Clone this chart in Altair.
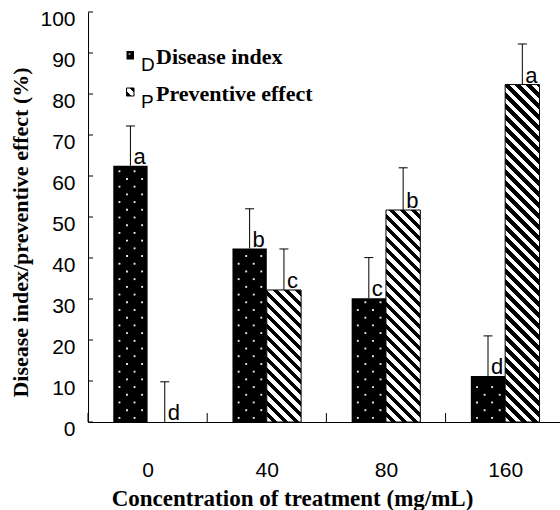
import json
import altair as alt
import pandas as pd

# ---------------- data ----------------
categories = ["0", "40", "80", "160"]
series = ["Disease index", "Preventive effect"]
disease_index = [62.5, 42.3, 30.2, 11.2]
disease_err = [9.7, 9.7, 9.9, 9.8]
preventive = [0.0, 32.2, 51.7, 82.3]
preventive_err = [9.8, 10.0, 10.3, 9.9]
disease_letters = ["a", "b", "c", "d"]
preventive_letters = ["d", "c", "b", "a"]
y_ticks = list(range(0, 101, 10))
x_title = "Concentration of treatment (mg/mL)"
y_title = "Disease index/preventive effect (%)"

# ---------------- layout ----------------
W, H = 472, 410
X_MIN, X_MAX = -0.5, 3.46
Y_MAX = 100
PX_X = W / (X_MAX - X_MIN)
PX_Y = H / Y_MAX
BW = 0.288
CAP = 4.5 / PX_X

SANS = "Liberation Sans, Arial, sans-serif"
SERIF = "Liberation Serif, Times New Roman, serif"

xs = alt.Scale(domain=[X_MIN, X_MAX], nice=False, zero=False)
ys = alt.Scale(domain=[0, Y_MAX], nice=False, zero=True)

rows = []
for i, c in enumerate(categories):
    rows.append(dict(cat=c, s=series[0], x=i - BW, x2=i, cx=i - BW / 2,
                     v=disease_index[i], top=disease_index[i] + disease_err[i],
                     letter=disease_letters[i]))
    rows.append(dict(cat=c, s=series[1], x=i, x2=i + BW, cx=i + BW / 2,
                     v=preventive[i], top=preventive[i] + preventive_err[i],
                     letter=preventive_letters[i]))
df = pd.DataFrame(rows)
di_df = df[df.s == series[0]]

label_expr = "%s[datum.value]" % json.dumps(categories)

x_axis = alt.Axis(values=list(range(len(categories))), labelExpr=label_expr,
                  ticks=False, tickSize=0, grid=False, domainColor="black",
                  labelFont=SANS, labelFontSize=21, labelColor="black",
                  labelPadding=37, labelOverlap=False,
                  title=x_title, titleFont=SERIF, titleFontSize=23,
                  titleFontWeight="bold", titleColor="black", titlePadding=7,
                  titleX=204)
y_axis = alt.Axis(values=y_ticks, ticks=False, tickSize=0, grid=False,
                  domainColor="black", labelFont=SANS, labelFontSize=21,
                  labelColor="black", labelPadding=13, labelOffset=7,
                  labelOverlap=False,
                  title=y_title, titleFont=SERIF, titleFontSize=22,
                  titleFontWeight="bold", titleColor="black",
                  titleX=-68, titleY=220, titleBaseline="middle")


def X(f):
    return alt.X(f, scale=xs)


def Y(f):
    return alt.Y(f, scale=ys)


# disease index bars (black)
di_bars = alt.Chart(di_df).mark_rect(color="black").encode(
    x=alt.X("x:Q", scale=xs, axis=x_axis),
    x2="x2:Q",
    y=alt.Y("v:Q", scale=ys, axis=y_axis),
    y2=alt.datum(0),
)

# dot texture on disease bars
dots = []
for i, v in enumerate(disease_index):
    k = 0
    y = 1.0
    while y < v - 1.0:
        offs = [0.40, 0.84] if k % 2 else [0.18, 0.62]
        for f in offs:
            dots.append(dict(dx=i - BW + f * BW, dy=y))
        y += 1.88
        k += 1
dots_df = pd.DataFrame(dots)
dot_layer = alt.Chart(dots_df).mark_square(color="#f0f0f0", size=3.5, opacity=1).encode(
    x=X("dx:Q"), y=Y("dy:Q"))


def stripe_gradient(w, h, period=11.0, black=0.5):
    L = w + h
    k = L / (w * w + h * h)
    stops = []
    n = int(L / period) + 2
    for j in range(n):
        a = j * period / L
        m = (j + 1 - black) * period / L
        b = (j + 1) * period / L
        if a > 1:
            break
        stops += [dict(offset=min(a, 1), color="white"),
                  dict(offset=min(m, 1), color="white"),
                  dict(offset=min(m, 1), color="black"),
                  dict(offset=min(b, 1), color="black")]
    return dict(gradient="linear", x1=0, y1=1, x2=k * w, y2=1 - k * h, stops=stops)


pe_layers = []
for i, v in enumerate(preventive):
    if v <= 0:
        continue
    sub = df[(df.s == series[1]) & (df.cat == categories[i])]
    g = stripe_gradient(BW * PX_X, v * PX_Y)
    pe_layers.append(
        alt.Chart(sub).mark_rect(fill=g, stroke="black", strokeWidth=1).encode(
            x=X("x:Q"), x2="x2:Q", y=Y("v:Q"), y2=alt.datum(0))
    )

err_v = alt.Chart(df).mark_rule(color="black", strokeWidth=1).encode(
    x=X("cx:Q"), y=Y("v:Q"), y2="top:Q")
err_cap = alt.Chart(df).transform_calculate(
    cl="datum.cx - %f" % CAP, cr="datum.cx + %f" % CAP
).mark_rule(color="black", strokeWidth=1).encode(
    x=X("cl:Q"), x2="cr:Q", y=Y("top:Q"))

letters = alt.Chart(df).mark_text(align="left", baseline="alphabetic", dx=3, dy=-2,
                                   font=SANS, fontSize=22, color="black").encode(
    x=X("cx:Q"), y=Y("v:Q"), text="letter:N")

# inward ticks
ytick_df = pd.DataFrame({"t": y_ticks})
ytick_layer = alt.Chart(ytick_df).mark_rule(color="black").encode(
    x=alt.value(0), x2=alt.value(5), y=Y("t:Q"))
xtick_df = pd.DataFrame({"t": [i - 0.5 for i in range(len(categories))]})
xtick_layer = alt.Chart(xtick_df).mark_rule(color="black").encode(
    x=X("t:Q"), y=alt.value(H - 9), y2=alt.value(H))

# legend
leg_layers = []
ROW = 37
for i, s in enumerate(series):
    d = pd.DataFrame({"s": [s], "g": [s[0]]})
    y0 = 39 + i * ROW
    if i == 0:
        leg_layers.append(alt.Chart(d).mark_rect(color="black").encode(
            x=alt.value(38.5), x2=alt.value(46), y=alt.value(y0), y2=alt.value(y0 + 8.5)))
        leg_layers.append(alt.Chart(d).mark_square(color="#f0f0f0", size=3).encode(
            x=alt.value(41.5), y=alt.value(y0 + 3)))
    else:
        g = dict(gradient="linear", x1=0, y1=1, x2=1, y2=0,
                 stops=[dict(offset=0, color="black"), dict(offset=0.3, color="black"),
                        dict(offset=0.3, color="white"), dict(offset=0.7, color="white"),
                        dict(offset=0.7, color="black"), dict(offset=1, color="black")])
        leg_layers.append(alt.Chart(d).mark_rect(fill=g, stroke="black", strokeWidth=1).encode(
            x=alt.value(38.5), x2=alt.value(46), y=alt.value(y0), y2=alt.value(y0 + 8)))
    leg_layers.append(alt.Chart(d).mark_text(align="left", baseline="alphabetic",
                                             font=SANS, fontSize=19, color="black",
                                             fontWeight="normal").encode(
        x=alt.value(53), y=alt.value(59 + i * ROW), text="g:N"))
    leg_layers.append(alt.Chart(d).mark_text(align="left", baseline="alphabetic",
                                             font=SERIF, fontSize=22, fontWeight="bold",
                                             color="black").encode(
        x=alt.value(68), y=alt.value(52 + i * ROW), text="s:N"))

chart = alt.layer(
    di_bars, dot_layer, *pe_layers, err_v, err_cap, letters,
    ytick_layer, xtick_layer, *leg_layers
).properties(
    width=W, height=H,
    autosize=alt.AutoSizeParams(type="none"),
    padding={"left": 88, "top": 12, "right": 0, "bottom": 88},
    background="white",
).configure_view(stroke=None)

chart.save("out.html", embed_options={"renderer": "svg", "actions": False})
